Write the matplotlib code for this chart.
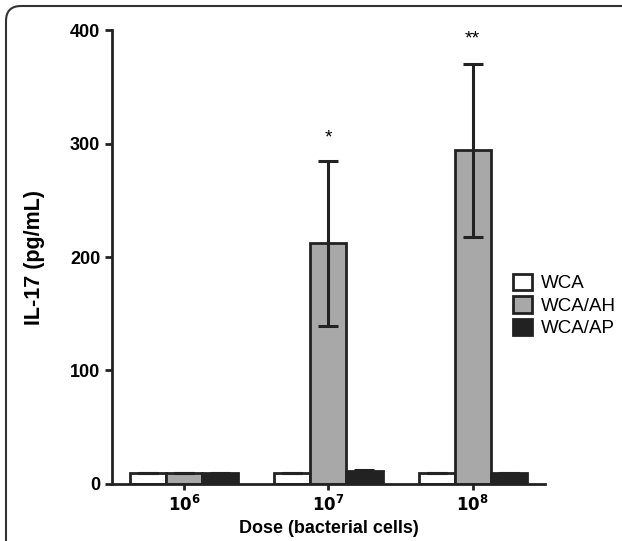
import matplotlib
matplotlib.use("Agg")
import matplotlib.pyplot as plt
import numpy as np
from matplotlib.patches import FancyBboxPatch

plt.rcParams['font.family'] = ['Liberation Sans', 'DejaVu Sans']

# data
doses = ['$\\mathbf{10^6}$', '$\\mathbf{10^7}$', '$\\mathbf{10^8}$']
groups = ['WCA', 'WCA/AH', 'WCA/AP']
wca = [10, 10, 10]
wca_ah = [10, 212, 294]
wca_ap = [10, 11.5, 10]
wca_err = [0, 0, 0]
wca_ah_err = [0, 73, 76]
wca_ap_err = [0, 1, 0]
stars = ['', '*', '**']
star_y = [0, 305, 392]

colors = ['white', '#a8a8a8', '#222222']
edge = '#222222'

fig = plt.figure(figsize=(6.22, 5.41), dpi=100)
ax = fig.add_axes([0.18, 0.1054, 0.696, 0.8391])

x = np.arange(len(doses))
w = 0.25
series = [(wca, wca_err), (wca_ah, wca_ah_err), (wca_ap, wca_ap_err)]
for i, (vals, errs) in enumerate(series):
    pos = x + (i - 1) * w
    ax.bar(pos, vals, width=w, color=colors[i], edgecolor=edge, linewidth=2,
           label=groups[i], zorder=2)
    ax.errorbar(pos, vals, yerr=errs, fmt='none', ecolor=edge, elinewidth=2.2,
                capsize=7.5, capthick=2.2, zorder=3)

for xi, s, sy in zip(x, stars, star_y):
    if s:
        ax.text(xi, sy, s, ha='center', va='center', fontsize=14)

ax.set_xlim(-0.5, 2.5)
ax.set_ylim(0, 400)
ax.set_yticks([0, 100, 200, 300, 400])
ax.set_xticks(x)
ax.set_xticklabels(doses)
for sp in ['top', 'right']:
    ax.spines[sp].set_visible(False)
for sp in ['left', 'bottom']:
    ax.spines[sp].set_linewidth(2)
    ax.spines[sp].set_color(edge)
ax.tick_params(axis='both', width=2, length=5, color=edge)
ax.tick_params(axis='y', labelsize=13)
ax.tick_params(axis='x', length=4, labelsize=12)
for lab in ax.get_yticklabels():
    lab.set_fontweight('bold')
ax.set_ylabel('IL-17 (pg/mL)', fontsize=15.5, fontweight='bold')
ax.yaxis.set_label_coords(-0.155, 0.5)
ax.set_xlabel('Dose (bacterial cells)', fontsize=13, fontweight='bold', labelpad=4)

fig.legend(loc='upper left', bbox_to_anchor=(505 / 622, 1 - 266 / 541),
           frameon=False, fontsize=13.5, handlelength=1.05, handleheight=1.0,
           handletextpad=0.45, labelspacing=0.2, borderaxespad=0)

frame = FancyBboxPatch((0.06, -0.5), 6.6, 5.85,
                       boxstyle='round,pad=0,rounding_size=0.15',
                       transform=fig.dpi_scale_trans, fill=False,
                       edgecolor='#333333', linewidth=1.5, clip_on=False)
fig.patches.append(frame)

fig.savefig('out.png', dpi=100)
